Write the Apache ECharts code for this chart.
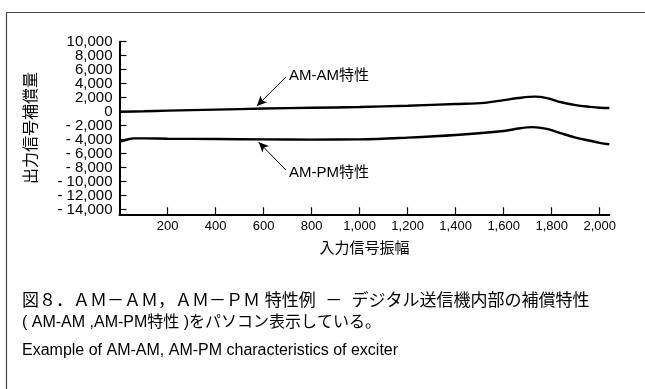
<!DOCTYPE html>
<html>
<head>
<meta charset="utf-8">
<script src="https://cdn.jsdelivr.net/npm/echarts@6/dist/echarts.min.js"></script>
<style>
  html, body { margin: 0; padding: 0; background: #fff; }
  #chart { width: 645px; height: 389px; }
</style>
</head>
<body>
<div id="chart"></div>
<script>
// Input amplitude samples and the two compensation curves
const amAmX = [0, 100, 200, 400, 600, 800, 1000, 1200, 1400, 1520, 1600, 1660, 1730, 1780, 1840, 1900, 1960, 2000, 2040];
const amAmY = [0, 70, 150, 300, 450, 560, 670, 860, 1100, 1260, 1650, 1950, 2150, 1950, 1350, 950, 700, 570, 530];

const amPmX = [0, 30, 60, 100, 200, 400, 600, 800, 1000, 1200, 1400, 1600, 1660, 1720, 1780, 1840, 1900, 1960, 2000, 2040];
const amPmY = [-4300, -4000, -3800, -3800, -3850, -3900, -3950, -3980, -3950, -3700, -3330, -2760, -2400, -2200, -2450, -3100, -3700, -4150, -4450, -4650];

// Axis ticks
const xTicks = [200, 400, 600, 800, 1000, 1200, 1400, 1600, 1800, 2000];
const yTicks = [10000, 8000, 6000, 4000, 2000, 0, -2000, -4000, -6000, -8000, -10000, -12000, -14000];

// Text
const xName = '入力信号振幅';
const yName = '出力信号補償量';
const amAmLabel = 'AM-AM特性';
const amPmLabel = 'AM-PM特性';
const caption1 = '図８．ＡＭ－ＡＭ，ＡＭ－ＰＭ 特性例  －  デジタル送信機内部の補償特性';
const caption2 = '( AM-AM ,AM-PM特性 )をパソコン表示している。';
const caption3 = 'Example of AM-AM, AM-PM characteristics of exciter';

const FONT = "'Liberation Sans', Arial, 'Noto Sans CJK JP', sans-serif";
const Y_MIN = -14650, Y_MAX = 10000;

function pairs(xs, ys) { return xs.map((x, i) => [x, ys[i]]); }
function fmtY(v) {
  const s = Math.abs(v).toLocaleString('en-US');
  return v < 0 ? '- ' + s : s;
}
// The tick labels sit closer together than their text height, so they are
// split over two overlaid axes (alternating values) to keep all of them shown.
const yLabelsA = yTicks.filter((_, i) => i % 2 === 0);
const yLabelsB = yTicks.filter((_, i) => i % 2 === 1);

const chart = echarts.init(document.getElementById('chart'), null, { renderer: 'canvas' });

const arrowLine = {
  silent: true,
  symbol: ['none', 'arrow'],
  symbolSize: [7, 10],
  lineStyle: { color: '#000', width: 1, type: 'solid' },
  label: { show: false },
  emphasis: { disabled: true }
};
const pointLabel = (text, coord) => ({
  coord: coord,
  symbolSize: 0,
  label: {
    show: true, position: 'right', distance: 0, formatter: text,
    color: '#000', fontSize: 15, fontFamily: FONT
  }
});
const yLabelStyle = { color: '#000', fontSize: 15, fontFamily: FONT, margin: 7, formatter: fmtY };

chart.setOption({
  animation: false,
  backgroundColor: '#fff',
  grid: { left: 119.5, top: 41.7, right: 35.7, bottom: 174.7, containLabel: false },
  xAxis: {
    type: 'value', min: 0, max: 2040,
    name: xName, nameLocation: 'middle', nameGap: 27,
    nameTextStyle: { color: '#000', fontSize: 15, fontFamily: FONT },
    axisLine: { onZero: false, lineStyle: { color: '#000', width: 2 } },
    axisTick: { inside: true, length: 7, customValues: xTicks, lineStyle: { color: '#000', width: 1.2 } },
    axisLabel: {
      customValues: xTicks, color: '#000', fontSize: 13, fontFamily: FONT, margin: 6,
      formatter: v => v.toLocaleString('en-US')
    },
    splitLine: { show: false }
  },
  yAxis: [
    {
      type: 'value', min: Y_MIN, max: Y_MAX, position: 'left',
      name: yName, nameLocation: 'middle', nameGap: 80, nameRotate: 90,
      nameTextStyle: { color: '#000', fontSize: 16, fontFamily: FONT },
      axisLine: { show: true, onZero: false, lineStyle: { color: '#000', width: 2 } },
      axisTick: { show: true, inside: true, length: 7, customValues: yTicks, lineStyle: { color: '#000', width: 1.2 } },
      axisLabel: Object.assign({ customValues: yLabelsA }, yLabelStyle),
      splitLine: { show: false }
    },
    {
      type: 'value', min: Y_MIN, max: Y_MAX, position: 'left', offset: 0,
      axisLine: { show: false, onZero: false },
      axisTick: { show: false },
      axisLabel: Object.assign({ customValues: yLabelsB }, yLabelStyle),
      splitLine: { show: false }
    }
  ],
  series: [
    {
      name: amAmLabel, type: 'line', data: pairs(amAmX, amAmY),
      smooth: 0.35, showSymbol: false, silent: true,
      lineStyle: { color: '#000', width: 2.4 },
      markLine: Object.assign({}, arrowLine, { data: [[{ coord: [693, 4950] }, { coord: [572, 820] }]] }),
      markPoint: { silent: true, data: [pointLabel(amAmLabel, [706, 5150])] }
    },
    {
      name: amPmLabel, type: 'line', data: pairs(amPmX, amPmY),
      smooth: 0.35, showSymbol: false, silent: true,
      lineStyle: { color: '#000', width: 2.4 },
      markLine: Object.assign({}, arrowLine, { data: [[{ coord: [693, -8330] }, { coord: [580, -4350] }]] }),
      markPoint: { silent: true, data: [pointLabel(amPmLabel, [706, -8800])] }
    }
  ],
  graphic: [
    {
      type: 'rect', silent: true,
      shape: { x: 6.5, y: 12.5, width: 700, height: 500 },
      style: { fill: 'none', stroke: '#444', lineWidth: 1.2 }
    },
    {
      type: 'text', left: 22, top: 293, silent: true,
      style: { text: caption1, fill: '#000', font: '17px ' + FONT }
    },
    {
      type: 'text', left: 22, top: 315, silent: true,
      style: { text: caption2, fill: '#000', font: '16px ' + FONT }
    },
    {
      type: 'text', left: 22, top: 343, silent: true,
      style: { text: caption3, fill: '#000', font: '16px ' + FONT }
    }
  ]
});
</script>
</body>
</html>
